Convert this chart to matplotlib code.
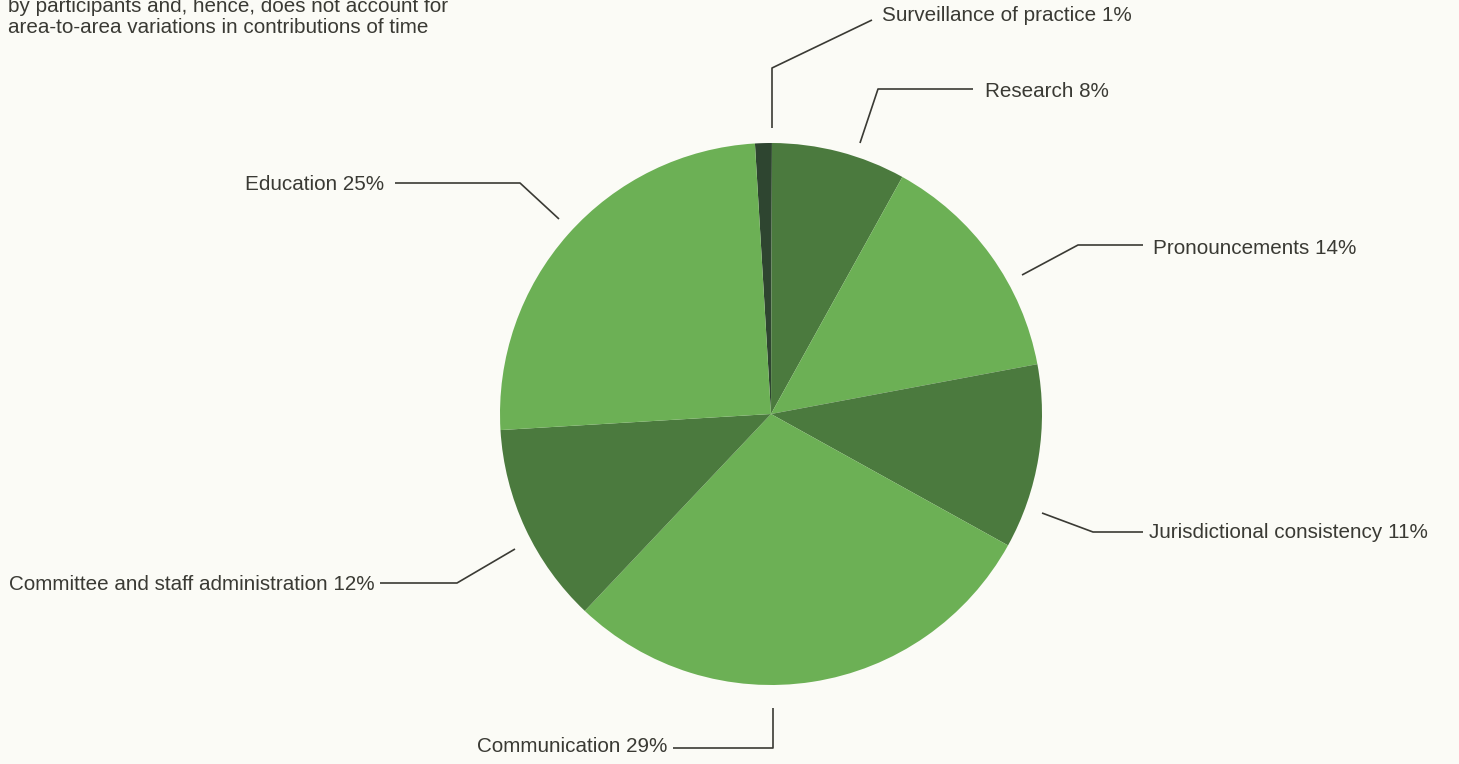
import matplotlib
matplotlib.use("Agg")
import matplotlib.pyplot as plt

# Share of committee effort by activity (percent)
categories = [
    "Surveillance of practice",
    "Research",
    "Pronouncements",
    "Jurisdictional consistency",
    "Communication",
    "Committee and staff administration",
    "Education",
]
shares = [1, 8, 14, 11, 29, 12, 25]

note_lines = [
    "by participants and, hence, does not account for",
    "area-to-area variations in contributions of time",
]

# Styling
BG = "#fbfbf6"
LIGHT = "#6cb055"
DARK = "#4b7a3e"
DARKEST = "#2e4530"
INK = "#3a3a34"
slice_colors = [DARKEST, DARK, LIGHT, DARK, LIGHT, DARK, LIGHT]

W, H = 1459, 764
fig = plt.figure(figsize=(W / 100, H / 100), dpi=100, facecolor=BG)
ax = fig.add_axes([0, 0, 1, 1])
ax.set_facecolor(BG)


def py(y):
    # convert a top-down pixel row into the axes' bottom-up coordinate
    return H - y


center = (771, py(414))
radius = 271

ax.pie(
    shares,
    colors=slice_colors,
    startangle=93.4,
    counterclock=False,
    center=center,
    radius=radius,
    wedgeprops=dict(linewidth=0),
    frame=True,
)
ax.set_xlim(0, W)
ax.set_ylim(0, H)
ax.set_aspect("equal")
ax.axis("off")

FONT = "Liberation Sans"
FS = 14.9

# Leader-line layout: polyline points (top-down pixels), text anchor (baseline), alignment
leaders = [
    ([(772, 128), (772, 68), (872, 20)], (882, 21), "left"),
    ([(860, 143), (878, 89), (973, 89)], (985, 97), "left"),
    ([(1022, 275), (1078, 245), (1143, 245)], (1153, 254), "left"),
    ([(1042, 513), (1093, 532), (1143, 532)], (1149, 538), "left"),
    ([(773, 708), (773, 748), (673, 748)], (667, 752), "right"),
    ([(515, 549), (457, 583), (380, 583)], (375, 590), "right"),
    ([(559, 219), (520, 183), (395, 183)], (384, 190), "right"),
]

for name, val, (pts, (tx, ty), ha) in zip(categories, shares, leaders):
    xs = [p[0] for p in pts]
    ys = [py(p[1]) for p in pts]
    ax.plot(xs, ys, color=INK, lw=1.2, solid_capstyle="butt")
    ax.text(tx, py(ty), f"{name} {val}%", ha=ha, va="baseline",
            fontsize=FS, family=FONT, color=INK)

# Explanatory note in the top-left corner (first line runs off the top edge)
for i, line in enumerate(note_lines):
    ax.text(8, py(12 + 21 * i), line, ha="left", va="baseline",
            fontsize=FS, family=FONT, color=INK)

fig.savefig("out.png", dpi=100, facecolor=BG)
